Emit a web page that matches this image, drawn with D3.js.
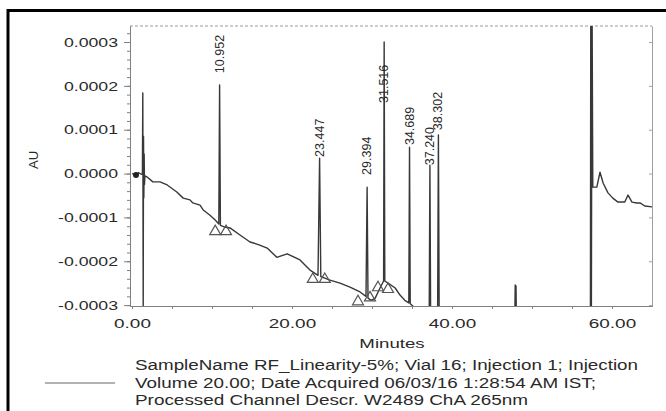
<!DOCTYPE html>
<html><head><meta charset="utf-8">
<script src="https://cdn.jsdelivr.net/npm/d3@7"></script>
<style>
html,body{margin:0;padding:0;background:#fff;}
svg{display:block;font-family:"Liberation Sans",Arial,sans-serif;}
</style></head>
<body>
<svg id="chart" width="666" height="411"></svg>
<script>
// ---- data ----
const traceTime = [0.0,0.5,0.8,1.1,1.3,1.35,1.40,1.44,1.48,1.52,1.56,1.62,1.9,2.6,3.5,4.4,5.6,6.4,7.25,7.6,8.5,8.9,9.75,10.4,10.85,10.95,11.05,11.6,12.25,13.5,14.75,15.8,16.9,18.1,19.4,21.0,22.25,23.25,23.45,23.6,24.75,26.0,27.25,28.5,29.25,29.39,29.5,29.9,30.4,31.0,31.45,31.52,31.6,32.0,32.9,33.5,34.1,34.6,34.69,34.78,35.1,36.0,37.15,37.24,37.33,38.2,38.30,38.40,40.0,47.85,47.9,47.95,48.0,48.05,57.3,57.35,57.42,57.5,57.6,58.1,58.5,58.9,59.5,60.1,60.75,61.6,62.0,62.5,63.1,63.5,64.1,65.0];
const traceAU = [0.0,-0.03e-4,0.02e-4,-0.01e-4,-0.02e-4,1.84e-4,-3.05e-4,0.85e-4,-0.55e-4,0.45e-4,-0.25e-4,-0.05e-4,-0.08e-4,-0.19e-4,-0.19e-4,-0.26e-4,-0.42e-4,-0.56e-4,-0.60e-4,-0.67e-4,-0.72e-4,-0.83e-4,-0.95e-4,-1.06e-4,-1.15e-4,2.02e-4,-1.18e-4,-1.22e-4,-1.24e-4,-1.40e-4,-1.56e-4,-1.62e-4,-1.70e-4,-1.91e-4,-1.83e-4,-1.97e-4,-2.20e-4,-2.32e-4,0.35e-4,-2.35e-4,-2.43e-4,-2.50e-4,-2.59e-4,-2.70e-4,-2.80e-4,-0.31e-4,-2.84e-4,-2.89e-4,-2.84e-4,-2.61e-4,-2.45e-4,3.0e-4,-2.45e-4,-2.50e-4,-2.61e-4,-2.77e-4,-2.89e-4,-2.95e-4,0.60e-4,-2.97e-4,-3.02e-4,-3.16e-4,-3.25e-4,0.19e-4,-3.25e-4,-3.28e-4,0.88e-4,-3.28e-4,-3.35e-4,-3.40e-4,-2.54e-4,-3.40e-4,-2.56e-4,-3.40e-4,-3.45e-4,4.2e-4,-3.45e-4,4.2e-4,-0.31e-4,-0.31e-4,0.03e-4,-0.22e-4,-0.44e-4,-0.56e-4,-0.65e-4,-0.65e-4,-0.49e-4,-0.65e-4,-0.67e-4,-0.67e-4,-0.74e-4,-0.76e-4];

const peakTimes   = [10.952, 23.447, 29.394, 31.516, 34.689, 37.240, 38.302];
const peakLabels  = ["10.952","23.447","29.394","31.516","34.689","37.240","38.302"];
const peakLabelAU = [2.29e-4, 0.38e-4, -0.03e-4, 1.61e-4, 0.65e-4, 0.19e-4, 0.99e-4];

const markerTimes = [10.4, 11.75, 22.6, 24.1, 28.25, 29.75, 30.75, 32.0];
const markerAU    = [-1.29e-4, -1.29e-4, -2.38e-4, -2.38e-4, -2.89e-4, -2.80e-4, -2.57e-4, -2.61e-4];

const startDotTime = [0.5];
const startDotAU   = [-0.03e-4];

const yTickValues = [-0.0003,-0.0002,-0.0001,0,0.0001,0.0002,0.0003];
const yTickLabels = ["-0.0003","-0.0002","-0.0001","0.0000","0.0001","0.0002","0.0003"];
const xTickValues = [0,20,40,60];
const xTickLabels = ["0.00","20.00","40.00","60.00"];

const xTitle = "Minutes";
const yTitle = "AU";
const legendLines = [
  "SampleName RF_Linearity-5%; Vial 16; Injection 1; Injection",
  "Volume 20.00; Date Acquired 06/03/16 1:28:54 AM IST;",
  "Processed Channel Descr. W2489 ChA 265nm"
];

// ---- layout ----
const L = 130, R = 652, T = 26, B = 306;
const svg = d3.select("#chart");
const x = d3.scaleLinear().domain([-0.25, 65]).range([L, R]);
const y = d3.scaleLinear().domain([-3.02e-4, 3.365e-4]).range([B, T]);
const axisColor = "#808080";
const textColor = "#2a2a2a";
const stretch = 1.36;

function stretchText(sel, f){
  sel.each(function(){
    const n = this.getComputedTextLength();
    d3.select(this).attr("textLength", n*f).attr("lengthAdjust","spacingAndGlyphs");
  });
}

// outer frame
svg.append("rect").attr("x",8).attr("y",10.5).attr("width",700).attr("height",500)
  .attr("fill","none").attr("stroke","#000").attr("stroke-width",3);

// top border dotted, right border
svg.append("line").attr("x1",L).attr("x2",R).attr("y1",T).attr("y2",T)
  .attr("stroke","#9a9a9a").attr("stroke-width",1).attr("stroke-dasharray","3,2");
const rightAxis = svg.append("g").attr("transform",`translate(${R},0)`)
  .call(d3.axisRight(y).tickValues(yTickValues).tickSize(-3).tickSizeOuter(0).tickFormat(""));
rightAxis.selectAll("path,line").attr("stroke","#a0a0a0");

// minor y ticks
const yMinor = svg.append("g").attr("transform",`translate(${L},0)`)
  .call(d3.axisLeft(y).tickValues(d3.range(-15,17).map(k=>k*0.00002)).tickSize(3).tickSizeOuter(0).tickFormat(""));
yMinor.selectAll("path,line").attr("stroke",axisColor);

// left axis
const yAxis = svg.append("g").attr("transform",`translate(${L},0)`)
  .call(d3.axisLeft(y).tickValues(yTickValues).tickSize(6).tickPadding(6).tickSizeOuter(0)
    .tickFormat((d,i)=>yTickLabels[i]));
yAxis.selectAll("path,line").attr("stroke",axisColor);
yAxis.selectAll("text").attr("font-size",13).attr("fill",textColor)
  .attr("font-family","Liberation Sans, Arial, sans-serif").call(stretchText, stretch);

// minor x ticks
const xMinor = svg.append("g").attr("transform",`translate(0,${B})`)
  .call(d3.axisBottom(x).tickValues(d3.range(0,65,5)).tickSize(3).tickSizeOuter(0).tickFormat(""));
xMinor.selectAll("path,line").attr("stroke",axisColor);
const xAxis = svg.append("g").attr("transform",`translate(0,${B})`)
  .call(d3.axisBottom(x).tickValues(xTickValues).tickSize(3).tickPadding(9).tickSizeOuter(0)
    .tickFormat((d,i)=>xTickLabels[i]));
xAxis.selectAll("path,line").attr("stroke",axisColor);
xAxis.selectAll("text").attr("font-size",13.5).attr("fill",textColor)
  .attr("font-family","Liberation Sans, Arial, sans-serif").call(stretchText, 1.4);

// axis titles
svg.append("text").attr("x",(L+R)/2+1).attr("y",348).attr("text-anchor","middle")
  .attr("font-size",13.5).attr("fill",textColor).text(xTitle).call(stretchText, 1.38);
svg.append("text").attr("transform","translate(38,160) rotate(-90)").attr("text-anchor","middle")
  .attr("font-size",13).attr("fill",textColor).text(yTitle);

// trace
svg.append("clipPath").attr("id","plotclip").append("rect")
  .attr("x",L).attr("y",T).attr("width",R-L).attr("height",B-T);
const pts = traceTime.map((t,i)=>[t, traceAU[i]]);
const line = d3.line().x(d=>x(d[0])).y(d=>y(d[1]));
svg.append("path").datum(pts).attr("clip-path","url(#plotclip)")
  .attr("d",line).attr("fill","none").attr("stroke","#383838").attr("stroke-width",1.4)
  .attr("stroke-linejoin","round");

// start dot
svg.selectAll("circle.start").data(startDotTime).join("circle").attr("class","start")
  .attr("cx",d=>x(d)).attr("cy",(d,i)=>y(startDotAU[i])).attr("r",3).attr("fill","#222");

// integration markers (open triangles)
svg.selectAll("path.marker").data(markerTimes).join("path").attr("class","marker")
  .attr("transform",(d,i)=>`translate(${x(d)},${y(markerAU[i])})`)
  .attr("d","M0,-5L5.5,4.5L-5.5,4.5Z").attr("fill","none").attr("stroke","#555").attr("stroke-width",1.2);

// peak labels
svg.selectAll("text.peak").data(peakTimes).join("text").attr("class","peak")
  .attr("transform",(d,i)=>`translate(${x(d)+4},${y(peakLabelAU[i])}) rotate(-90)`)
  .attr("font-size",12.5).attr("fill",textColor).attr("text-anchor","start")
  .text((d,i)=>peakLabels[i]).call(stretchText, 1.0);

// legend
svg.append("line").attr("x1",45).attr("x2",115).attr("y1",383).attr("y2",383)
  .attr("stroke","#999").attr("stroke-width",1.5);
const legendWidths = [503, 461, 393];
legendLines.forEach((s,i)=>{
  svg.append("text").attr("x",135).attr("y",370+i*17.5).attr("font-size",14)
    .attr("fill",textColor).attr("textLength",legendWidths[i]).attr("lengthAdjust","spacingAndGlyphs").text(s);
});
</script>
</body></html>
